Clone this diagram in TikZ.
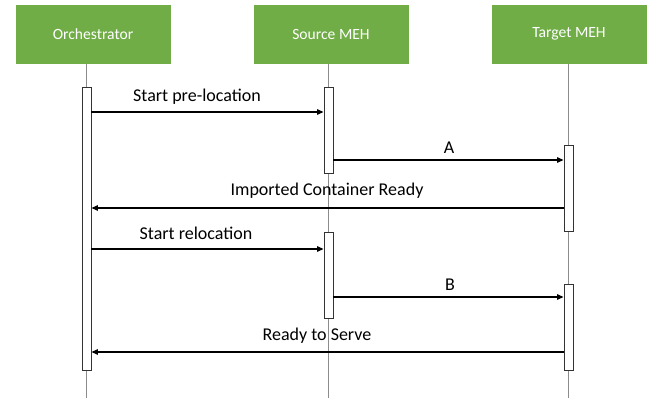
\documentclass[tikz,border=0pt]{standalone}
\usepackage{fontspec}
\setmainfont{Carlito}
\usetikzlibrary{arrows.meta,positioning}
\definecolor{hdrgreen}{HTML}{70AD47}
\definecolor{lifegray}{HTML}{8C8C8C}
\begin{document}
\begin{tikzpicture}[x=1pt,y=-1pt,
  actor/.style={fill=hdrgreen,draw=white,line width=0.6pt,minimum width=156pt,minimum height=60pt,
    text=white,font=\fontsize{15.6pt}{18pt}\selectfont,inner sep=0pt},
  lifeline/.style={draw=lifegray,line width=0.7pt},
  actbar/.style={draw=black!80,fill=white,line width=0.9pt,minimum width=9pt,inner sep=0pt,anchor=north},
  msg/.style={draw=black,line width=1.3pt,-{Triangle[length=6.5pt,width=5.5pt]}},
  msglabel/.style={font=\fontsize{18pt}{21pt}\selectfont,inner sep=0pt}]
\useasboundingbox (0,0) rectangle (652,398);

% participants
\node[actor] (orch) at (93,34) {Orchestrator};
\node[actor] (src)  at (331,34) {Source MEH};
\node[actor] (tgt)  at (569,34) {Target MEH};

% lifeline ends
\coordinate (oend) at (86.5,398);
\coordinate (send) at (328.5,398);
\coordinate (tend) at (568.5,398);
\draw[lifeline] (oend |- orch.south) -- (oend);
\draw[lifeline] (send |- src.south) -- (send);
\draw[lifeline] (tend |- tgt.south) -- (tend);

% activation bars
\node[actbar,minimum height=283pt] (ob) at (86.5,87) {};
\node[actbar,minimum height=86pt]  (s1) at (328.5,87) {};
\node[actbar,minimum height=86pt]  (t1) at (568.5,145) {};
\node[actbar,minimum height=86pt]  (s2) at (328.5,232) {};
\node[actbar,minimum height=86pt]  (t2) at (568.5,284) {};

% message levels
\coordinate (m1) at (0,112);
\coordinate (m2) at (0,160);
\coordinate (m3) at (0,208);
\coordinate (m4) at (0,249);
\coordinate (m5) at (0,297);
\coordinate (m6) at (0,352);

% messages
\draw[msg] (ob.east |- m1) -- (s1.west |- m1);
\draw[msg] (s1.east |- m2) -- (t1.west |- m2);
\draw[msg] (t1.west |- m3) -- (ob.east |- m3);
\draw[msg] (ob.east |- m4) -- (s2.west |- m4);
\draw[msg] (s2.east |- m5) -- (t2.west |- m5);
\draw[msg] (t2.west |- m6) -- (ob.east |- m6);

% message labels
\node[msglabel] (l1) at (197,97)  {Start pre-location};
\node[msglabel] (l2) at (449,148) {A};
\node[msglabel] (l3) at (327,191) {Imported Container Ready};
\node[msglabel] (l4) at (196,233) {Start relocation};
\node[msglabel] (l5) at (450,285) {B};
\node[msglabel] (l6) at (317,336) {Ready to Serve};
\end{tikzpicture}
\end{document}
